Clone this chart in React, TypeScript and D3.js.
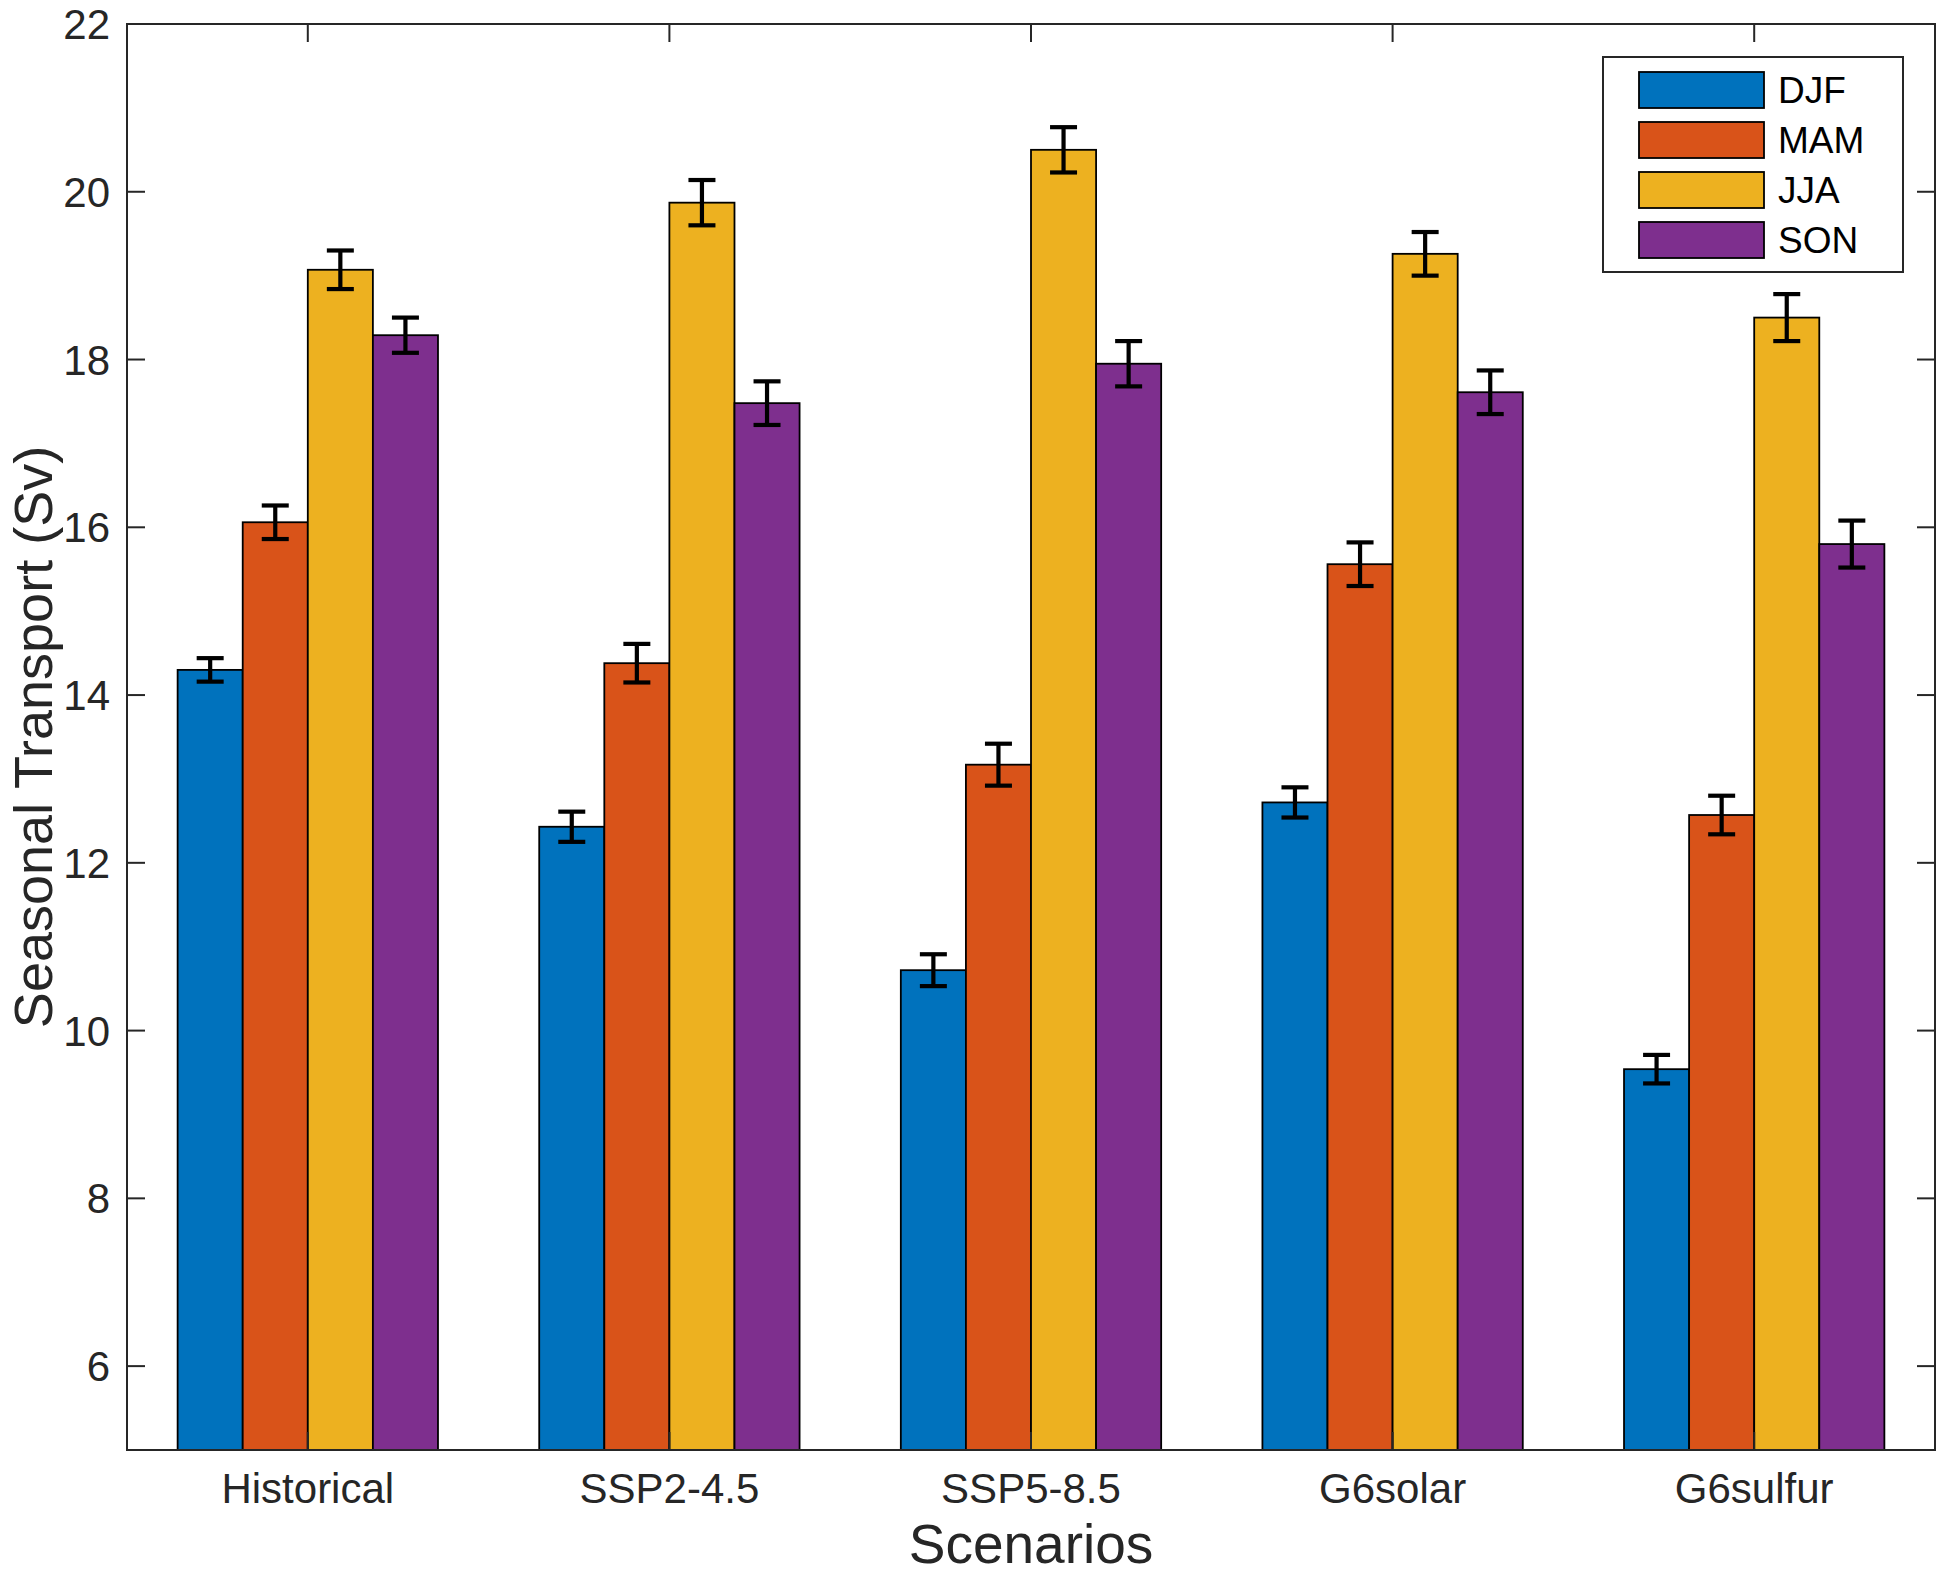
import React from "react";
import * as d3 from "d3";

const scenarios = ["Historical", "SSP2-4.5", "SSP5-8.5", "G6solar", "G6sulfur"];
const seasons = ["DJF", "MAM", "JJA", "SON"];
const seasonColors = ["#0072BD", "#D95319", "#EDB120", "#7E2F8E"];

const djf = [14.3, 12.43, 10.72, 12.72, 9.54];
const mam = [16.06, 14.38, 13.17, 15.56, 12.57];
const jja = [19.07, 19.87, 20.5, 19.26, 18.5];
const son = [18.29, 17.48, 17.95, 17.61, 15.8];

const djfErr = [0.14, 0.18, 0.19, 0.18, 0.17];
const mamErr = [0.2, 0.23, 0.25, 0.26, 0.23];
const jjaErr = [0.23, 0.27, 0.27, 0.26, 0.28];
const sonErr = [0.21, 0.26, 0.27, 0.26, 0.28];

const yTicks = [6, 8, 10, 12, 14, 16, 18, 20, 22];
const yDomain: [number, number] = [5, 22];

const W = 1944;
const H = 1576;
const M = { left: 127, right: 1935, top: 24, bottom: 1450 };
const FONT = "'Liberation Sans', Arial, Helvetica, sans-serif";
const AX = "#262626";

export default function App() {
  const values = [djf, mam, jja, son];
  const errs = [djfErr, mamErr, jjaErr, sonErr];

  const x0 = d3
    .scaleBand<string>()
    .domain(scenarios)
    .range([M.left, M.right])
    .paddingInner(0.28)
    .paddingOuter(0.14);
  const x1 = d3.scaleBand<string>().domain(seasons).range([0, x0.bandwidth()]).padding(0);
  const y = d3.scaleLinear().domain(yDomain).range([M.bottom, M.top]);

  const tickLen = 18;
  const capW = 27;

  return (
    <svg
      width={W}
      height={H}
      style={{ position: "absolute", left: 0, top: 0, display: "block", background: "#fff" }}
    >
      <rect x={0} y={0} width={W} height={H} fill="#fff" />
      {/* bars */}
      {scenarios.map((sc, i) => (
        <g key={sc}>
          {seasons.map((se, j) => {
            const bx = (x0(sc) as number) + (x1(se) as number);
            const v = values[j][i];
            return (
              <rect
                key={se}
                x={bx}
                y={y(v)}
                width={x1.bandwidth()}
                height={y(yDomain[0]) - y(v)}
                fill={seasonColors[j]}
                stroke="#000"
                strokeWidth={1.8}
              />
            );
          })}
        </g>
      ))}
      {/* error bars */}
      {scenarios.map((sc, i) => (
        <g key={sc + "e"} stroke="#000" strokeWidth={4.2}>
          {seasons.map((se, j) => {
            const cx = (x0(sc) as number) + (x1(se) as number) + x1.bandwidth() / 2;
            const v = values[j][i];
            const e = errs[j][i];
            return (
              <g key={se}>
                <line x1={cx} x2={cx} y1={y(v - e)} y2={y(v + e)} />
                <line x1={cx - capW / 2} x2={cx + capW / 2} y1={y(v + e)} y2={y(v + e)} />
                <line x1={cx - capW / 2} x2={cx + capW / 2} y1={y(v - e)} y2={y(v - e)} />
              </g>
            );
          })}
        </g>
      ))}
      {/* axes box */}
      <rect
        x={M.left}
        y={M.top}
        width={M.right - M.left}
        height={M.bottom - M.top}
        fill="none"
        stroke={AX}
        strokeWidth={2}
      />
      {/* y ticks */}
      {yTicks.map((t) => (
        <g key={"y" + t}>
          <line x1={M.left} x2={M.left + tickLen} y1={y(t)} y2={y(t)} stroke={AX} strokeWidth={2} />
          <line x1={M.right} x2={M.right - tickLen} y1={y(t)} y2={y(t)} stroke={AX} strokeWidth={2} />
          <text
            x={M.left - 17}
            y={y(t)}
            dy="0.36em"
            textAnchor="end"
            fontFamily={FONT}
            fontSize={42}
            fill={AX}
          >
            {t}
          </text>
        </g>
      ))}
      {/* x ticks */}
      {scenarios.map((sc) => {
        const cx = (x0(sc) as number) + x0.bandwidth() / 2;
        return (
          <g key={"x" + sc}>
            <line x1={cx} x2={cx} y1={M.bottom} y2={M.bottom - tickLen} stroke={AX} strokeWidth={2} />
            <line x1={cx} x2={cx} y1={M.top} y2={M.top + tickLen} stroke={AX} strokeWidth={2} />
            <text x={cx} y={1503} textAnchor="middle" fontFamily={FONT} fontSize={42} fill={AX}>
              {sc}
            </text>
          </g>
        );
      })}
      {/* axis labels */}
      <text
        x={(M.left + M.right) / 2}
        y={1563}
        textAnchor="middle"
        fontFamily={FONT}
        fontSize={55}
        fill={AX}
      >
        Scenarios
      </text>
      <text
        transform={`translate(52, ${(M.top + M.bottom) / 2}) rotate(-90)`}
        textAnchor="middle"
        fontFamily={FONT}
        fontSize={54}
        fill={AX}
      >
        Seasonal Transport (Sv)
      </text>
      {/* legend */}
      <g>
        <rect x={1603} y={57} width={300} height={215} fill="#fff" stroke={AX} strokeWidth={2} />
        {seasons.map((se, j) => (
          <g key={"l" + se}>
            <rect
              x={1639}
              y={72 + j * 50}
              width={125}
              height={36}
              fill={seasonColors[j]}
              stroke="#000"
              strokeWidth={1.8}
            />
            <text
              x={1778}
              y={90 + j * 50}
              dy="0.36em"
              fontFamily={FONT}
              fontSize={37}
              fill="#000"
            >
              {se}
            </text>
          </g>
        ))}
      </g>
    </svg>
  );
}
